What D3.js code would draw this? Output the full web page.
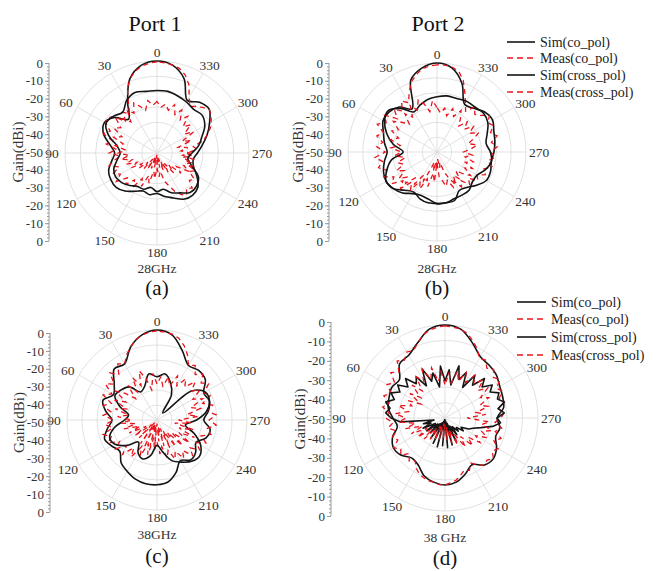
<!DOCTYPE html>
<html>
<head>
<script src="https://d3js.org/d3.v7.min.js"></script>
<style>
  body { margin: 0; background: #fff; }
  svg text { font-family: "Liberation Serif", serif; fill: #333; }
  .grid { fill: none; stroke: #d9d9d9; stroke-width: 0.8; }
  .sim { fill: none; stroke: #151515; stroke-width: 1.6; stroke-linejoin: round; }
  .meas { fill: none; stroke: #e8141c; stroke-width: 1.3; stroke-dasharray: 5,4; }
  .axis path, .axis line { stroke: #9a9a9a; }
</style>
</head>
<body>
<svg id="chart" width="663" height="571"></svg>
<script>
// angles in degrees, counter-clockwise from the top
var simAngles = [0,10,20,30,40,50,60,70,80,90,100,110,120,130,140,150,160,170,
                 180,190,200,210,220,230,240,250,260,270,280,290,300,310,320,330,340,350];
var measAngles = [0,5,10,15,20,25,30,35,40,45,50,55,60,65,70,75,80,85,90,95,100,105,110,115,
                  120,125,130,135,140,145,150,155,160,165,170,175,180,185,190,195,200,205,210,215,
                  220,225,230,235,240,245,250,255,260,265,270,275,280,285,290,295,300,305,310,315,
                  320,325,330,335,340,345,350,355];
var angleLabels = [0,30,60,90,120,150,180,210,240,270,300,330];
var gainTickLabels = ["0","-10","-20","-30","-40","-50","-40","-30","-20","-10","0"];
var legendNames = ["Sim(co_pol)","Meas(co_pol)","Sim(cross_pol)","Meas(cross_pol)"];

// (a) port 1, 28 GHz
var simCoA = [0,-1.5,-7,-18,-26,-20,-17,-19,-24,-27,-25,-22,-21,-21,-23,-26,-28,-27,
              -28,-26,-24,-21,-20,-21,-25,-29,-30,-28,-25,-21,-17,-13,-14,-17,-7,-1.5];
var simCrossA = [-16,-16,-15,-17,-21,-19,-18,-22,-28,-30,-28,-25,-24,-25,-27,-29,-29,-31,
                 -29,-30,-27,-25,-22,-22,-24,-30,-33,-31,-27,-24,-20,-18,-19,-18,-17,-16];
var measCoA = [-0.5,-1,-2,-4,-7,-12,-19,-24,-21,-26,-19,-17,-18,-22,-19,-25,-22,-28,-24,-30,
               -26,-23,-28,-24,-27,-23,-29,-26,-31,-28,-34,-30,-37,-33,-40,-36,-42,-37,-40,-34,
               -31,-27,-24,-22,-25,-23,-27,-25,-30,-27,-33,-30,-36,-31,-34,-28,-30,-24,-21,-18,
               -16,-14,-13,-15,-17,-19,-15,-9,-5,-2.5,-1.5,-0.8];
var measCrossA = [-22,-24,-21,-26,-23,-20,-25,-22,-28,-24,-21,-26,-23,-29,-25,-31,-27,-33,-29,-35,
                  -30,-36,-32,-38,-34,-40,-37,-43,-39,-46,-40,-47,-41,-48,-42,-49,-40,-48,-42,-47,
                  -40,-45,-38,-43,-36,-41,-33,-37,-30,-34,-29,-33,-30,-36,-32,-37,-33,-38,-30,-35,
                  -27,-32,-26,-30,-24,-28,-23,-27,-22,-26,-23,-25];

// (b) port 2, 28 GHz
var simCoB = [0,-2,-7,-22,-17,-15,-15,-18,-20,-22,-20,-18,-17,-18,-22,-24,-22,-21,
              -21,-21,-21,-25,-24,-21,-18,-18,-19,-18,-17,-16,-14,-15,-18,-19,-9,-2];
var simCrossB = [-19,-20,-22,-24,-18,-14,-16,-20,-25,-31,-24,-20,-17,-18,-20,-23,-24,-23,
                 -21,-21,-22,-22,-22,-24,-24,-21,-19,-20,-22,-20,-17,-16,-17,-17,-18,-18];
var measCoB = [-1,-1.5,-2.5,-5,-8,-13,-18,-15,-20,-16,-21,-14,-17,-13,-18,-15,-19,-16,-21,-15,
               -19,-16,-20,-17,-22,-19,-25,-21,-28,-24,-31,-27,-34,-30,-38,-33,-44,-36,-34,-30,
               -33,-28,-31,-26,-29,-24,-27,-22,-24,-20,-22,-18,-21,-17,-20,-16,-19,-15,-18,-15,
               -17,-14,-18,-20,-17,-22,-18,-13,-7,-3,-1.5,-1];
var measCrossB = [-25,-21,-27,-22,-19,-24,-20,-26,-22,-28,-24,-20,-25,-22,-27,-23,-29,-24,-30,-26,
                  -32,-27,-30,-25,-29,-24,-28,-25,-31,-28,-35,-32,-40,-44,-39,-45,-40,-46,-41,-44,
                  -38,-33,-29,-34,-30,-35,-31,-27,-32,-28,-33,-29,-34,-30,-35,-31,-27,-32,-28,-24,
                  -29,-25,-30,-26,-31,-27,-23,-28,-24,-29,-25,-28];

// (c) port 1, 38 GHz
var simCoC = [0,-2,-7,-14,-13,-19,-22,-18,-21,-25,-22,-19,-21,-23,-19,-17,-15,-14,
              -14,-15,-19,-24,-21,-22,-25,-21,-20,-24,-21,-19,-20,-15,-14,-15,-9,-2];
var simCrossC = [-26,-24,-30,-32,-26,-24,-23,-28,-34,-32,-26,-22,-23,-28,-34,-29,-27,-30,
                 -36,-32,-26,-23,-20,-19,-22,-28,-34,-28,-22,-19,-19,-25,-45,-34,-28,-24];
var measCoC = [-0.5,-1,-2,-4,-7,-10,-14,-12,-17,-13,-19,-15,-21,-17,-23,-19,-24,-20,-26,-21,
               -25,-19,-23,-20,-26,-22,-28,-23,-30,-25,-33,-28,-36,-30,-40,-33,-38,-31,-35,-28,
               -32,-26,-30,-24,-28,-22,-26,-21,-25,-20,-24,-19,-22,-17,-21,-17,-22,-18,-23,-17,
               -20,-15,-18,-14,-17,-13,-15,-10,-6,-3,-1.5,-1];
var measCrossC = [-30,-24,-33,-26,-21,-29,-23,-31,-25,-33,-27,-22,-30,-24,-32,-26,-34,-28,-36,-30,
                  -38,-31,-40,-33,-43,-35,-46,-36,-48,-34,-47,-33,-48,-35,-47,-36,-48,-38,-46,-35,
                  -45,-33,-43,-32,-41,-30,-39,-28,-36,-27,-37,-29,-40,-31,-38,-27,-33,-25,-30,-22,
                  -27,-21,-25,-20,-26,-22,-28,-23,-30,-25,-31,-26];

// (d) port 2, 38 GHz
var simCoD = [0,-1.5,-7,-11,-12,-18,-17,-18,-19,-22,-24,-20,-18,-19,-22,-21,-17,-15,
              -14,-15,-18,-21,-17,-16,-18,-21,-20,-22,-18,-17,-16,-14,-13,-12,-7,-1.5];
var simCrossD = [-30,-22,-33,-25,-29,-21,-30,-23,-26,-20,-24,-19,-22,-18,-21,-17,-20,-18,-21,-26,
                 -44,-38,-42,-37,-44,-38,-45,-39,-46,-37,-47,-35,-48,-34,-49,-35,-49,-34,-48,-35,
                 -47,-37,-45,-39,-44,-40,-42,-38,-40,-36,-34,-30,-24,-20,-22,-18,-21,-17,-20,-18,
                 -22,-19,-24,-20,-27,-22,-31,-23,-28,-21,-32,-24];
var measCoD = [-0.5,-1,-2,-4,-7,-10,-9,-12,-10,-15,-12,-17,-14,-18,-15,-19,-16,-20,-18,-22,
               -19,-23,-20,-22,-18,-21,-19,-23,-20,-22,-19,-17,-16,-15,-15,-14,-14,-15,-16,-18,
               -20,-19,-22,-19,-17,-18,-16,-19,-17,-21,-18,-22,-19,-23,-20,-18,-21,-17,-19,-16,
               -18,-14,-16,-13,-15,-12,-13,-9,-6,-3,-1.5,-1];
var measCrossD = [-32,-25,-30,-22,-28,-21,-27,-23,-31,-25,-33,-27,-35,-28,-31,-24,-30,-23,-29,-25,
                  -34,-28,-37,-30,-39,-32,-41,-34,-43,-36,-45,-37,-46,-38,-47,-39,-46,-38,-45,-36,
                  -43,-34,-40,-31,-37,-29,-34,-27,-31,-25,-29,-24,-30,-26,-38,-28,-33,-26,-30,-24,
                  -28,-22,-27,-21,-26,-22,-28,-23,-29,-24,-31,-26];

var panels = [
  {cx:157, cy:153, r:92, axisX:49, axisTop:63, axisBot:241, freq:"28GHz", freqY:268, cap:"(a)", capY:288,
   simCo:[simAngles, simCoA], measCo:[measAngles, measCoA], simCross:[simAngles, simCrossA], measCross:[measAngles, measCrossA]},
  {cx:437, cy:152, r:89, axisX:329, axisTop:63, axisBot:241, freq:"28GHz", freqY:268, cap:"(b)", capY:288,
   simCo:[simAngles, simCoB], measCo:[measAngles, measCoB], simCross:[simAngles, simCrossB], measCross:[measAngles, measCrossB]},
  {cx:157, cy:420, r:90, axisX:50, axisTop:333, axisBot:512, freq:"38GHz", freqY:534, cap:"(c)", capY:556,
   simCo:[simAngles, simCoC], measCo:[measAngles, measCoC], simCross:[simAngles, simCrossC], measCross:[measAngles, measCrossC]},
  {cx:445, cy:418, r:93, axisX:331, axisTop:322, axisBot:516, freq:"38 GHz", freqY:537, cap:"(d)", capY:558,
   simCo:[simAngles, simCoD], measCo:[measAngles, measCoD], simCross:[measAngles, simCrossD], measCross:[measAngles, measCrossD]}
];

var svg = d3.select("#chart");
var rad = Math.PI / 180;

svg.append("text").attr("x", 155).attr("y", 23).attr("text-anchor", "middle")
  .attr("dominant-baseline", "central").style("font-size", "22px").style("fill", "#111").text("Port 1");
svg.append("text").attr("x", 438).attr("y", 23).attr("text-anchor", "middle")
  .attr("dominant-baseline", "central").style("font-size", "22px").style("fill", "#111").text("Port 2");

panels.forEach(function(p) {
  var g = svg.append("g");
  var rScale = d3.scaleLinear().domain([-50, 0]).range([0, p.r]).clamp(true);

  // grid: six rings and a spoke every 30 degrees
  g.selectAll(".ring").data([1, 2, 3, 4, 5, 6]).enter().append("circle")
    .attr("class", "grid").attr("cx", p.cx).attr("cy", p.cy).attr("r", d => p.r * d / 6);
  g.selectAll(".spoke").data(angleLabels).enter().append("line")
    .attr("class", "grid")
    .attr("x1", p.cx).attr("y1", p.cy)
    .attr("x2", d => p.cx - p.r * Math.sin(d * rad))
    .attr("y2", d => p.cy - p.r * Math.cos(d * rad));

  g.selectAll(".alab").data(angleLabels).enter().append("text")
    .attr("x", d => p.cx - (p.r + 13) * Math.sin(d * rad))
    .attr("y", d => p.cy - (p.r + (d === 180 ? 7 : 9)) * Math.cos(d * rad))
    .attr("text-anchor", "middle").attr("dominant-baseline", "central")
    .style("font-size", "13.5px").text(d => d);

  // gain axis on the left
  var yAx = d3.scaleLinear().domain([0, 100]).range([p.axisTop, p.axisBot]);
  g.append("g").attr("class", "axis").attr("transform", "translate(" + p.axisX + ",0)")
    .call(d3.axisLeft(yAx).tickValues(d3.range(0, 101, 2)).tickSize(2).tickSizeOuter(0).tickFormat(""))
    .select(".domain").remove();
  var ax = g.append("g").attr("class", "axis").attr("transform", "translate(" + p.axisX + ",0)")
    .call(d3.axisLeft(yAx).tickValues(d3.range(0, 101, 10)).tickSize(4).tickPadding(2).tickSizeOuter(0)
      .tickFormat(d => gainTickLabels[d / 10]));
  ax.selectAll("text").style("font-size", "13px").style("fill", "#333");
  ax.select(".domain").remove();
  g.append("line").attr("x1", p.axisX).attr("x2", p.axisX).attr("y1", p.axisTop).attr("y2", p.axisBot)
    .attr("stroke", "#9a9a9a");

  g.append("text")
    .attr("transform", "translate(" + (p.axisX - 31) + "," + ((p.axisTop + p.axisBot) / 2) + ") rotate(-90)")
    .attr("text-anchor", "middle").attr("dominant-baseline", "central")
    .style("font-size", "15px").text("Gain(dBi)");

  function pts(s) { return s[0].map((a, i) => ({a: a, g: s[1][i]})); }
  var smooth = d3.lineRadial().angle(d => -d.a * rad).radius(d => rScale(d.g)).curve(d3.curveCatmullRomClosed);
  var rough = d3.lineRadial().angle(d => -d.a * rad).radius(d => rScale(d.g)).curve(d3.curveLinearClosed);

  var plot = g.append("g").attr("transform", "translate(" + p.cx + "," + p.cy + ")");
  plot.append("path").attr("class", "sim").attr("d", smooth(pts(p.simCo)));
  plot.append("path").attr("class", "meas").attr("d", rough(pts(p.measCo)));
  plot.append("path").attr("class", "sim").attr("d", (p.simCross[0].length > 36 ? rough : smooth)(pts(p.simCross)));
  plot.append("path").attr("class", "meas").attr("d", rough(pts(p.measCross)));

  g.append("text").attr("x", p.cx).attr("y", p.freqY).attr("text-anchor", "middle")
    .attr("dominant-baseline", "central").style("font-size", "13.5px").text(p.freq);
  g.append("text").attr("x", p.cx).attr("y", p.capY).attr("text-anchor", "middle")
    .attr("dominant-baseline", "central").style("font-size", "21px").style("fill", "#111").text(p.cap);
});

// legends
function legend(x0, x1, ys) {
  var lg = svg.append("g");
  legendNames.forEach(function(name, i) {
    lg.append("line").attr("x1", x0).attr("x2", x1).attr("y1", ys[i]).attr("y2", ys[i])
      .attr("class", i % 2 ? "meas" : "sim").style("stroke-dasharray", i % 2 ? "6,4" : null);
    lg.append("text").attr("x", x1 + 5).attr("y", ys[i]).attr("dominant-baseline", "central")
      .style("font-size", "14px").style("fill", "#222").text(name);
  });
}
legend(507, 535, [42, 58, 75, 92]);
legend(517, 546, [302, 319, 337, 355]);
</script>
</body>
</html>
